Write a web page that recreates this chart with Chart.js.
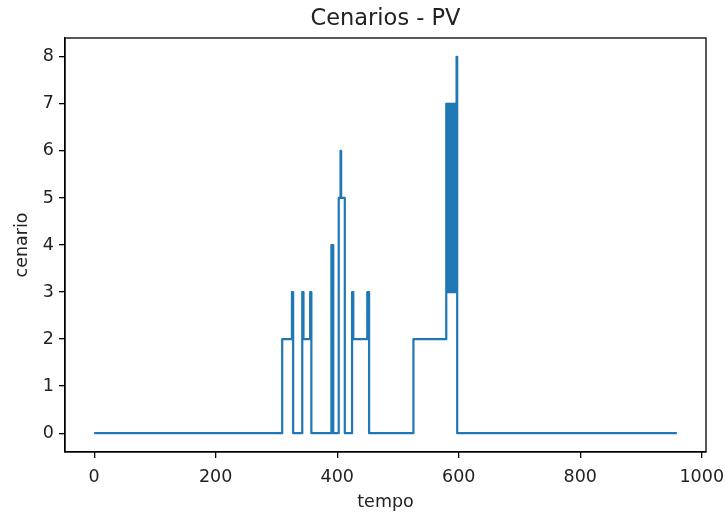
<!DOCTYPE html>
<html>
<head>
<meta charset="utf-8">
<script src="https://cdn.jsdelivr.net/npm/chart.js@4/dist/chart.umd.min.js"></script>
<style>
    html, body { margin: 0; padding: 0; background: #fff; }
    canvas { display: block; }
</style>
</head>
<body>
<canvas id="chart" width="726" height="513"></canvas>
<script>
// scenario level by time step, stored as runs: each run starts at runStarts[i] with runLevels[i]
const runStarts = [0, 310, 326, 328, 343, 345, 356, 358, 391, 394, 403, 406, 407, 413, 425, 427, 450, 453, 526,
    580, 581, 582, 583, 584, 585, 586, 587, 588, 589, 590, 591, 592, 593, 594, 595, 596, 597, 598];
const runLevels = [0, 2, 3, 0, 3, 2, 3, 0, 4, 0, 5, 6, 5, 0, 3, 2, 3, 0, 2,
    7, 3, 7, 3, 7, 3, 7, 3, 7, 3, 7, 3, 7, 3, 7, 3, 7, 8, 0];
const lastTime = 959;
const xTicks = [0, 200, 400, 600, 800, 1000];
const yTicks = [0, 1, 2, 3, 4, 5, 6, 7, 8];

const series = [];
let run = 0;
for (let t = 0; t <= lastTime; t++) {
    while (run + 1 < runStarts.length && runStarts[run + 1] <= t) run++;
    series.push({ x: t, y: runLevels[run] });
}

const textColor = '#222';
Chart.defaults.font.family = "'DejaVu Sans', sans-serif";
Chart.defaults.color = textColor;

// full box around the plot area and a title centred over the axes, like matplotlib
const frame = {
    id: 'frame',
    afterDraw(chart) {
        const { ctx, chartArea: a } = chart;
        ctx.save();
        ctx.strokeStyle = '#000';
        ctx.lineWidth = 1.3;
        ctx.strokeRect(a.left, a.top, a.right - a.left, a.bottom - a.top);
        ctx.fillStyle = textColor;
        ctx.font = "22.5px 'DejaVu Sans', sans-serif";
        ctx.textAlign = 'center';
        ctx.textBaseline = 'middle';
        ctx.fillText('Cenarios - PV', (a.left + a.right) / 2, a.top - 19);
        ctx.restore();
    }
};

new Chart(document.getElementById('chart'), {
    type: 'line',
    data: {
        datasets: [{
            data: series,
            borderColor: '#1f77b4',
            borderWidth: 2.2,
            borderJoinStyle: 'round',
            stepped: 'middle',
            pointRadius: 0,
            fill: false
        }]
    },
    options: {
        responsive: false,
        animation: false,
        layout: { padding: { top: 38, right: 20, bottom: 0, left: 0 } },
        plugins: {
            legend: { display: false },
            tooltip: { enabled: false },
            title: { display: false }
        },
        scales: {
            x: {
                type: 'linear',
                min: -48,
                max: 1007,
                afterBuildTicks: s => { s.ticks = xTicks.map(v => ({ value: v })); },
                afterFit: s => { s.height = 61; s.paddingLeft = 0; s.paddingRight = 0; },
                ticks: { font: { size: 17.5 }, color: textColor, padding: 9, maxRotation: 0, callback: v => String(v) },
                grid: { drawOnChartArea: false, tickLength: 6, color: '#000', lineWidth: 1.3 },
                border: { color: '#000', width: 1.3 },
                title: { display: true, text: 'tempo', color: textColor, font: { size: 17.5 }, padding: { bottom: 0 } }
            },
            y: {
                min: -0.4,
                max: 8.4,
                afterBuildTicks: s => { s.ticks = yTicks.map(v => ({ value: v })); },
                afterFit: s => { s.width = 65; s.paddingTop = 0; s.paddingBottom = 0; },
                ticks: { font: { size: 17.5 }, color: textColor, padding: 5, callback: v => String(v) },
                grid: { drawOnChartArea: false, tickLength: 6, color: '#000', lineWidth: 1.3 },
                border: { color: '#000', width: 1.3 },
                title: { display: true, text: 'cenario', color: textColor, font: { size: 17.5 }, padding: { top: 12 } }
            }
        }
    },
    plugins: [frame]
});
</script>
</body>
</html>
